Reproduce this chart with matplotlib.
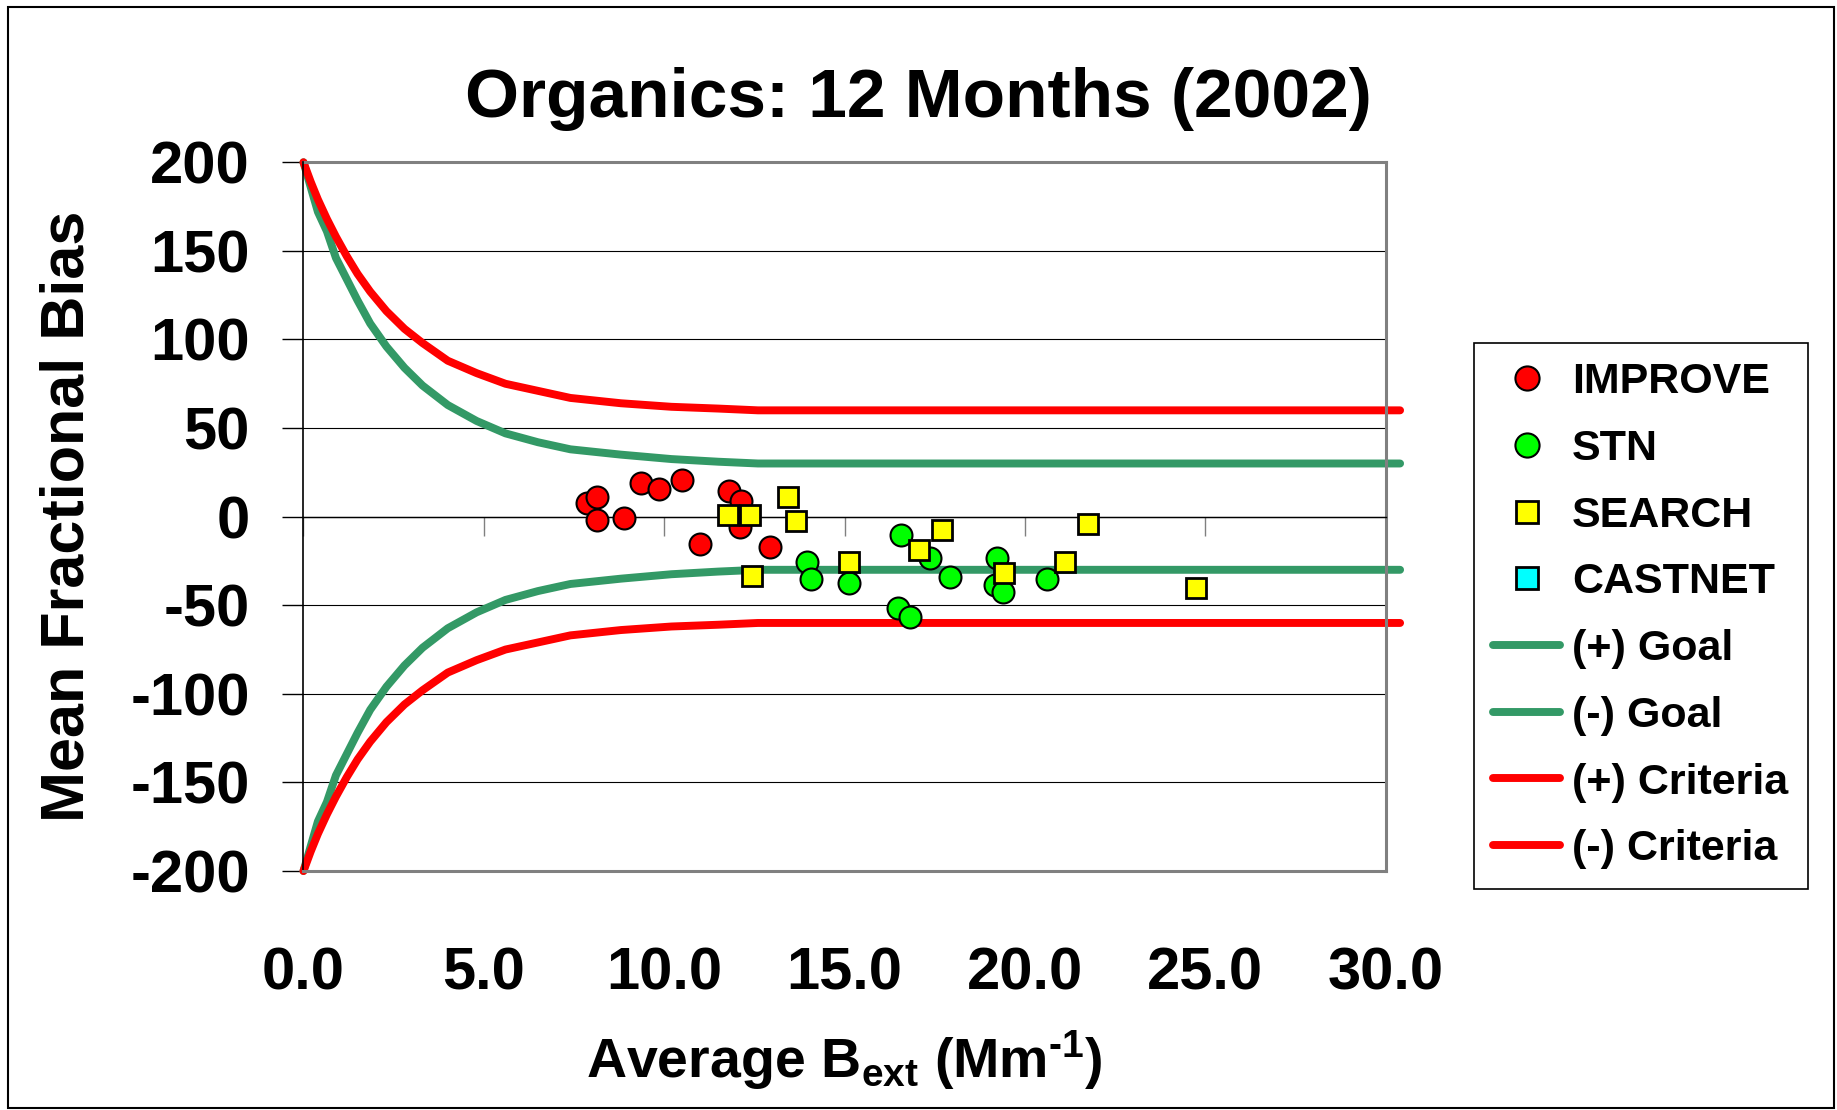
import numpy as np
import matplotlib
matplotlib.use("Agg")
import matplotlib.pyplot as plt
from matplotlib.patches import Rectangle
from matplotlib.ticker import FormatStrFormatter

plt.rcParams['font.family'] = ['Liberation Sans', 'DejaVu Sans']
plt.rcParams['font.weight'] = 'bold'
plt.rcParams['axes.labelweight'] = 'bold'
plt.rcParams['axes.unicode_minus'] = False
plt.rcParams['mathtext.fontset'] = 'custom'
plt.rcParams['mathtext.rm'] = 'Liberation Sans:bold'
plt.rcParams['mathtext.it'] = 'Liberation Sans:bold'
plt.rcParams['mathtext.bf'] = 'Liberation Sans:bold'
plt.rcParams['mathtext.default'] = 'rm'

# monitoring networks: average Bext vs mean fractional bias
improve_x = [7.85, 8.15, 8.15, 8.88, 9.37, 9.85, 10.50, 11.79, 12.12, 12.10, 10.99, 12.93]
improve_y = [7.5, 10.9, -1.9, -0.6, 19.1, 15.6, 20.7, 14.4, 8.8, -6.0, -15.6, -17.0]

stn_x = [13.97, 14.06, 15.11, 16.56, 17.36, 17.93, 16.49, 16.81, 19.23, 19.17, 19.40, 20.62]
stn_y = [-25.5, -35.4, -37.3, -10.6, -23.6, -33.9, -51.6, -56.9, -23.5, -38.6, -42.4, -35.2]

search_x = [11.76, 12.38, 13.42, 13.65, 12.44, 15.11, 17.71, 17.05, 19.42, 21.10, 21.74, 24.74]
search_y = [0.9, 0.9, 10.9, -2.5, -33.5, -25.5, -7.4, -18.8, -32.0, -25.5, -4.2, -40.5]

castnet_x = []
castnet_y = []

# goal / criteria curves
curve_x = [0, 0.2, 0.4, 0.65, 0.9, 1.2, 1.5, 1.85, 2.3, 2.8, 3.3, 4.0, 4.8, 5.6,
           6.5, 7.4, 8.8, 10.2, 11.5, 12.6, 30.4]
goal_pos = [200, 186, 172, 161, 146, 134, 122, 109, 96, 84, 74, 63, 54, 47,
            42, 38, 35, 32.5, 31, 30, 30]
goal_neg = [-200, -186, -172, -161, -146, -134, -122, -109, -96, -84, -74, -63, -54, -47,
            -42, -38, -35, -32.5, -31, -30, -30]
crit_pos = [200, 189, 179, 168, 158, 147, 137, 127, 116, 106, 98, 88, 81, 75,
            71, 67, 64, 62, 61, 60, 60]
crit_neg = [-200, -189, -179, -168, -158, -147, -137, -127, -116, -106, -98, -88, -81, -75,
            -71, -67, -64, -62, -61, -60, -60]

fig = plt.figure(figsize=(18.37, 11.10), dpi=100)
ax = fig.add_axes([0.1652, 0.2153, 0.5891, 0.6385])

green = '#339966'
red = '#FF0000'
line_kw = dict(lw=5.7, solid_capstyle='round', clip_on=False, zorder=2)
h_gp, = ax.plot(curve_x, goal_pos, color=green, label='(+) Goal', **line_kw)
h_gn, = ax.plot(curve_x, goal_neg, color=green, label='(-) Goal', **line_kw)
h_cp, = ax.plot(curve_x, crit_pos, color=red, label='(+) Criteria', **line_kw)
h_cn, = ax.plot(curve_x, crit_neg, color=red, label='(-) Criteria', **line_kw)

h_imp, = ax.plot(improve_x, improve_y, 'o', ms=15.8, mfc='#FF0000', mec='black',
                 mew=1.5, ls='none', zorder=3, label='IMPROVE')
h_stn, = ax.plot(stn_x, stn_y, 'o', ms=15.8, mfc='#00FF00', mec='black',
                 mew=1.5, ls='none', zorder=4, label='STN')
h_sea, = ax.plot(search_x, search_y, 's', ms=14.6, mfc='#FFFF00', mec='black',
                 mew=2, ls='none', zorder=5, label='SEARCH')
h_cas, = ax.plot(castnet_x, castnet_y, 's', ms=14.6, mfc='#00FFFF', mec='black',
                 mew=2, ls='none', zorder=6, label='CASTNET')

ax.set_xlim(0, 30)
ax.set_ylim(-200, 200)
ax.set_xticks(np.arange(0, 31, 5))
ax.set_yticks(np.arange(-200, 201, 50))
ax.xaxis.set_major_formatter(FormatStrFormatter('%.1f'))

ax.set_axisbelow(True)
ax.yaxis.grid(True, color='black', lw=0.8)
ax.axhline(200, color='#808080', lw=2.2, zorder=2.5, clip_on=False)

ax.spines['top'].set_position(('data', 0))
ax.spines['top'].set_color('black')
ax.spines['top'].set_linewidth(1)
ax.spines['left'].set_color('black')
ax.spines['left'].set_linewidth(1.2)
for s in ['right', 'bottom']:
    ax.spines[s].set_color('#808080')
    ax.spines[s].set_linewidth(2.2)

ax.tick_params(axis='x', bottom=False, top=True, labelbottom=True, labeltop=False,
               direction='in', length=14, width=1, color='#808080',
               labelsize=43, pad=54)
ax.tick_params(axis='y', left=True, right=False, direction='out', length=15,
               width=1, color='black', labelsize=43, pad=23.5)

ax.set_ylabel('Mean Fractional Bias', fontsize=44, fontweight='bold')
ax.yaxis.set_label_coords(-0.1917, 0.5)
ax.set_xlabel('Average B$_{ext}$ (Mm$^{\u2010 1}$)', fontsize=40, fontweight='bold',
              va='baseline')
ax.xaxis.set_label_coords(0.5, -0.292)

fig.text(0.5, 1 - 117 / 1110, 'Organics: 12 Months (2002)', fontsize=50,
         ha='center', va='baseline')

leg = ax.legend(handles=[h_imp, h_stn, h_sea, h_cas, h_gp, h_gn, h_cp, h_cn],
                loc='upper left', bbox_to_anchor=(1474 / 1837, 1 - 343 / 1110),
                bbox_transform=fig.transFigure, borderaxespad=0, fontsize=31,
                frameon=True, fancybox=False, edgecolor='black', framealpha=1,
                handlelength=1.55, handletextpad=0.28, borderpad=0.45,
                labelspacing=0.62, numpoints=1, markerscale=1.1)
leg.get_frame().set_linewidth(1.2)

fig.add_artist(Rectangle((8 / 1837, 2 / 1110), 1826 / 1837, 1101 / 1110,
                         transform=fig.transFigure, fill=False,
                         edgecolor='black', lw=1.5))

fig.savefig('out.png', dpi=100)
